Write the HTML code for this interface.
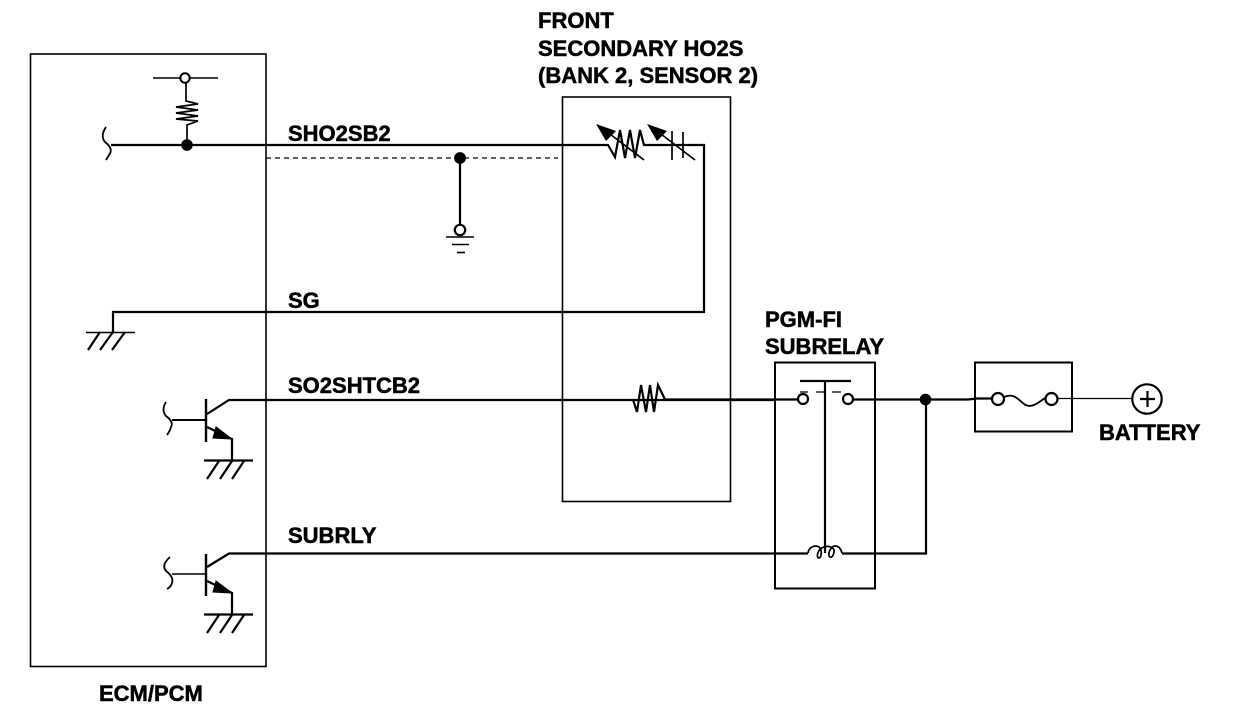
<!DOCTYPE html>
<html><head><meta charset="utf-8"><style>
html,body{margin:0;padding:0;background:#fff}
svg{display:block}
text{font-family:"Liberation Sans",Arial,sans-serif;font-weight:bold;font-size:22px;fill:#000;stroke:#000;stroke-width:.5}
</style></head><body>
<svg width="1248" height="708" viewBox="0 0 1248 708" xmlns="http://www.w3.org/2000/svg">
<g fill="none" stroke="#000" stroke-width="1.6">
<rect x="30.5" y="54" width="235.5" height="612.5"/>
<rect x="562.5" y="97" width="168" height="404.5"/>
<rect x="775" y="362.5" width="100" height="226" stroke-width="2"/>
<rect x="975" y="362.5" width="97" height="69" stroke-width="2"/>
</g>
<g fill="none" stroke="#000" stroke-width="2.2" stroke-linejoin="miter">
<!-- pull-up -->
<path d="M153 78H180M190 78H218" stroke-width="1.4"/>
<circle cx="185" cy="78" r="4.7" stroke-width="2"/>
<path d="M186 83V101L198 104L176 107L198 110L176 113L198 116L176 119L198 121L187 125V145" stroke-width="1.7"/>
<path d="M111 145H608L615 157L620 130L625 158L630 130L635 158L640 130L644 145H704V312H113V332"/>
<path d="M106 127Q100 136 105 142Q114 149 109 155L106 160" stroke-width="1.8"/>
<circle cx="187" cy="145" r="5.8" fill="#000" stroke="none"/>
<!-- variable resistor and cap arrows -->
<path d="M606 131L644 160M657 131L695 160" stroke-width="1.7"/>
<path d="M672 131V160M683 132V158" stroke-width="1.7"/>
<path d="M596 124L616 131L606 141ZM647 124L667 131L657 141Z" fill="#000" stroke="none"/>
<!-- shield -->
<path d="M266 158H558" stroke-width="1.2" stroke-dasharray="5 4"/>
<circle cx="460" cy="158" r="5.9" fill="#000" stroke="none"/>
<path d="M460 158V225"/>
<circle cx="460" cy="230" r="5.2"/>
<path d="M446 237H474M452 244.500H469" stroke-width="1.6"/>
<path d="M457 252.500H465" stroke-width="1.6"/>
<!-- ground SG -->
<path d="M86 332.500H135" stroke-width="1.5"/>
<path d="M100 332L88 350M113 332L100 350M125 332L112 350"/>
<!-- transistor 1 -->
<path d="M206 399V442" stroke-width="2.4"/>
<path d="M172 420H206" stroke-width="2"/>
<path d="M166 402Q161 410 166 416Q174 422 171 427Q170 431 167 435" stroke-width="1.8"/>
<path d="M207 414L229 400H775"/>
<path d="M207 427L232 439V460"/>
<path d="M232 439L216 427L213 438Z" fill="#000" stroke-width="1"/>
<path d="M204 460.500H253"/>
<path d="M219 461L207 479M232 461L220 479M244 461L232 479"/>
<!-- transistor 2 -->
<path d="M206 554V596" stroke-width="2.4"/>
<path d="M172 574H206" stroke-width="1.4"/>
<path d="M170 557Q161 565 166 571Q174 577 172 583Q171 587 167 589" stroke-width="1.8"/>
<path d="M207 567L229 553.500H808"/>
<path d="M207 581L232 593V614"/>
<path d="M232 593L216 581L213 592Z" fill="#000" stroke-width="1"/>
<path d="M204 614.500H253"/>
<path d="M219 615L207 633M232 615L220 633M244 615L232 633"/>
<!-- sensor heater resistor -->
<path d="M633 399.500L637 412L641 385L646 412L650 385L654 412L658 385L665 399.500H798" stroke-width="2.200"/>
<!-- relay -->
<path d="M800 381H851"/>
<path d="M825 381V553"/>
<circle cx="803" cy="399" r="5"/>
<circle cx="848" cy="399" r="5"/>
<path d="M800 392H808M816 392H824M832 392H841" stroke-width="1.3"/>
<path d="M853 399.500H968L977 398.500H993"/>
<circle cx="925.500" cy="399.500" r="5.800" fill="#000" stroke="none"/>
<path d="M926 399V553.500H842"/>
<path d="M808 553C809 546 816 545 819 547C823 551 821 558 819 558C816 558 817 549 824 547C829 545 835 548 834 552C833 558 830 558 829 556C828 551 832 546 835 546C839 546 841 549 842 553" stroke-width="1.7"/>
<!-- fuse -->
<circle cx="998" cy="399" r="6"/>
<circle cx="1051.500" cy="399" r="6"/>
<path d="M1004 397C1013 393 1017 398 1024 404C1031 409 1038 403 1045 398" stroke-width="1.8"/>
<path d="M1058 398.500H1132" stroke-width="1.3"/>
<circle cx="1147" cy="399" r="14.700"/>
<path d="M1140 399H1155M1147.500 391V407" stroke-width="2.200"/>
</g>
<text x="538" y="28">FRONT</text>
<text x="538" y="56">SECONDARY HO2S</text>
<text x="538" y="83">(BANK 2, SENSOR 2)</text>
<text x="288" y="141">SHO2SB2</text>
<text x="288" y="308">SG</text>
<text x="288" y="393">SO2SHTCB2</text>
<text x="288" y="543">SUBRLY</text>
<text x="765" y="327">PGM-FI</text>
<text x="765" y="354">SUBRELAY</text>
<text x="1099" y="440">BATTERY</text>
<text x="99" y="701">ECM/PCM</text>
</svg>
</body></html>
